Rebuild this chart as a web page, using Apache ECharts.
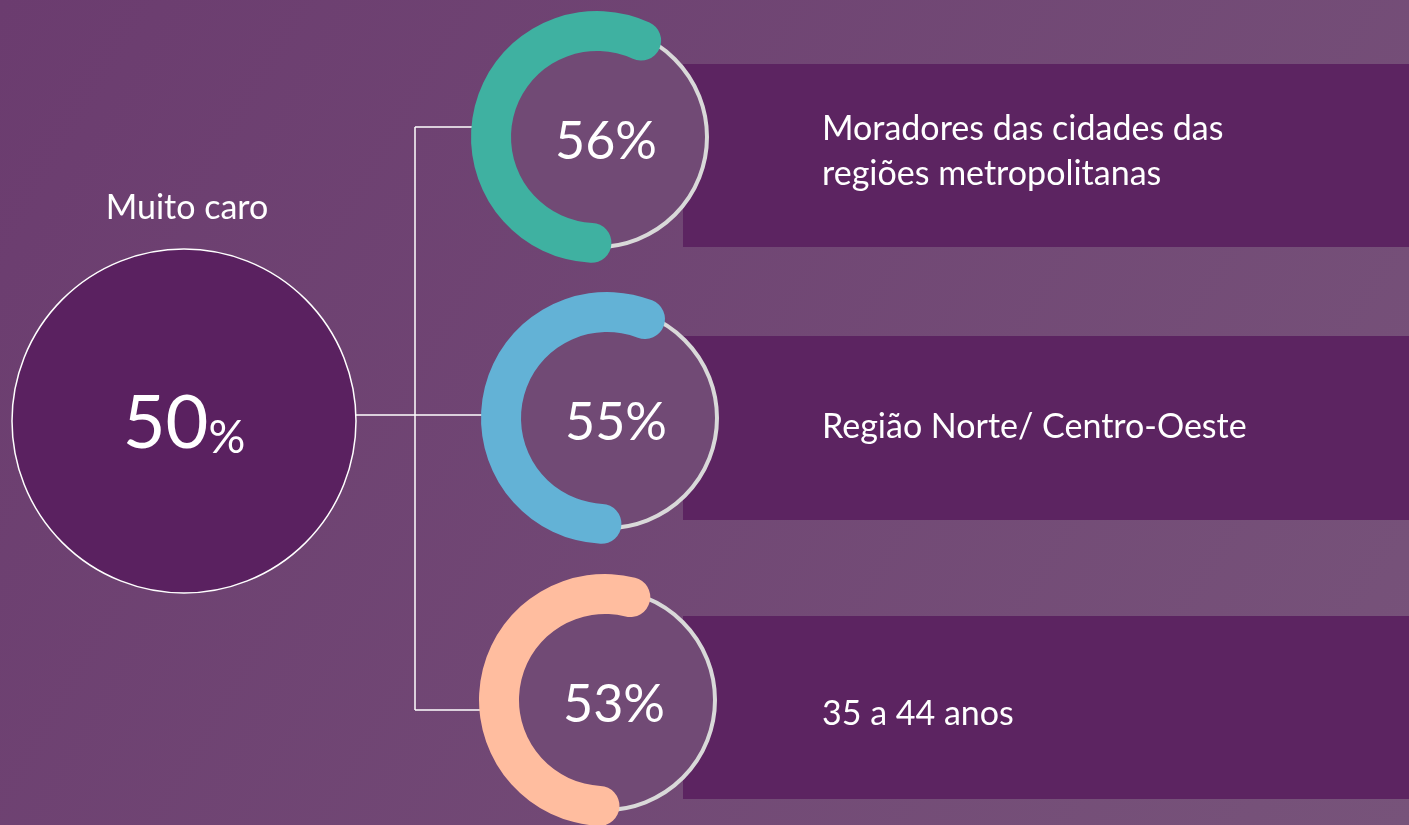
<!DOCTYPE html>
<html>
<head>
<meta charset="utf-8">
<script src="https://cdn.jsdelivr.net/npm/echarts@6/dist/echarts.min.js"></script>
<style>
  html, body { margin: 0; padding: 0; }
  #chart { width: 1409px; height: 825px; }
</style>
</head>
<body>
<div id="chart"></div>
<script>
// data
const totalLabel = 'Muito caro'
const totalValue = 50
const groups = ['Moradores das cidades das regiões metropolitanas', 'Região Norte/ Centro-Oeste', '35 a 44 anos']
const groupValues = [56, 55, 53]
const groupColors = ['#3fb1a1', '#63b2d6', '#ffbd9f']

const FONT = 'Lato'
const centers = [[597, 137], [607, 418], [605, 700]]
const boxes = [[683, 64, 726, 183], [683, 336, 726, 184], [683, 616, 726, 183]]
const textY = [152, 427, 714]

const chart = echarts.init(document.getElementById('chart'))

const series = []
// big circle
series.push({
  type: 'pie',
  z: 1,
  center: [184, 421],
  radius: 172,
  silent: true,
  emphasis: { disabled: true },
  itemStyle: { color: '#5a2160', borderColor: '#ffffff', borderWidth: 1.5 },
  label: {
    show: true,
    position: 'center',
    formatter: p => '{a|' + p.value + '}{b|%}',
    rich: {
      a: { fontFamily: FONT, fontSize: 74, color: '#fff', verticalAlign: 'bottom', lineHeight: 80 },
      b: { fontFamily: FONT, fontSize: 46, color: '#fff', verticalAlign: 'bottom', lineHeight: 66 }
    }
  },
  labelLine: { show: false },
  data: [{ value: totalValue, name: totalLabel }]
})

groups.forEach((name, i) => {
  // inner disc with grey ring
  series.push({
    type: 'pie',
    z: 1,
    center: centers[i],
    radius: 110,
    silent: true,
    emphasis: { disabled: true },
    itemStyle: { color: '#714a75', borderColor: '#d9d9d9', borderWidth: 4 },
    label: { show: false },
    labelLine: { show: false },
    data: [{ value: 100, name: name }]
  })
  series.push({
    type: 'gauge',
    z: 3,
    center: centers[i],
    radius: 126,
    startAngle: 267,
    endAngle: -93,
    clockwise: true,
    min: 0,
    max: 100,
    silent: true,
    progress: { show: true, width: 40, roundCap: true, itemStyle: { color: groupColors[i] } },
    axisLine: { show: false },
    axisTick: { show: false },
    splitLine: { show: false },
    axisLabel: { show: false },
    pointer: { show: false },
    anchor: { show: false },
    title: { show: false },
    detail: {
      show: true,
      formatter: '{value}%',
      offsetCenter: [9, 5],
      fontFamily: FONT,
      fontSize: 52,
      fontWeight: 'normal',
      color: '#ffffff'
    },
    data: [{ value: groupValues[i], name: name }]
  })
})

const graphics = []
boxes.forEach(b => {
  graphics.push({
    type: 'rect', z: 0, silent: true,
    shape: { x: b[0], y: b[1], width: b[2], height: b[3] },
    style: { fill: '#5c2461' }
  })
})
// connectors
graphics.push({
  type: 'polyline', z: 0, silent: true,
  shape: { points: [[415, 127], [415, 710]] },
  style: { stroke: '#ffffff', lineWidth: 1.5, fill: null }
})
graphics.push({
  type: 'polyline', z: 0, silent: true,
  shape: { points: [[415, 127], [480, 127]] },
  style: { stroke: '#ffffff', lineWidth: 1.5, fill: null }
})
graphics.push({
  type: 'polyline', z: 0, silent: true,
  shape: { points: [[356, 415], [490, 415]] },
  style: { stroke: '#ffffff', lineWidth: 1.5, fill: null }
})
graphics.push({
  type: 'polyline', z: 0, silent: true,
  shape: { points: [[415, 710], [490, 710]] },
  style: { stroke: '#ffffff', lineWidth: 1.5, fill: null }
})
graphics.push({
  type: 'text', z: 5, silent: true,
  x: 187, y: 208,
  style: {
    text: totalLabel, fill: '#ffffff', font: '34px ' + FONT,
    textAlign: 'center', textVerticalAlign: 'middle'
  }
})
groups.forEach((name, i) => {
  graphics.push({
    type: 'text', z: 5, silent: true,
    x: 822, y: textY[i],
    style: {
      text: name, fill: '#ffffff', font: '34px ' + FONT,
      width: 500, overflow: 'break', lineHeight: 45,
      textAlign: 'left', textVerticalAlign: 'middle'
    }
  })
})

chart.setOption({
  animation: false,
  backgroundColor: {
    type: 'linear', x: 0, y: 0, x2: 1, y2: 1,
    colorStops: [
      { offset: 0, color: '#6b3c6f' },
      { offset: 1, color: '#77537a' }
    ]
  },
  graphic: graphics,
  series: series
})
</script>
</body>
</html>
